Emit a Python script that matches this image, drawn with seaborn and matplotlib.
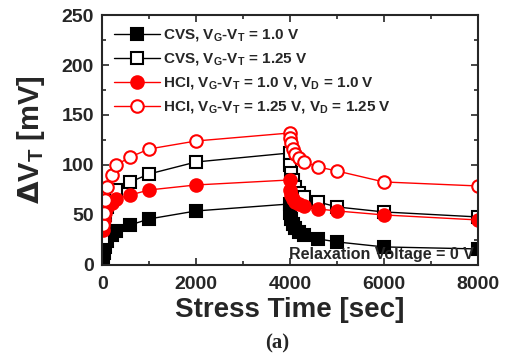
import pandas as pd
import matplotlib
matplotlib.use("Agg")
import matplotlib.pyplot as plt
from matplotlib.ticker import MultipleLocator
import seaborn as sns

sns.set_style("ticks")
plt.rcParams["font.family"] = ["Liberation Sans", "DejaVu Sans"]
plt.rcParams["font.weight"] = "bold"
plt.rcParams["mathtext.default"] = "bf"

# stress (0-4000 s) then relaxation (4000-8000 s)
time = [10, 30, 60, 100, 200, 300, 600, 1000, 2000, 4000,
        4010, 4030, 4060, 4100, 4200, 4300, 4600, 5000, 6000, 8000]
cvs_10 = [8, 12, 18, 24, 30, 34, 40, 46, 54, 61,
          52, 46, 41, 37, 33, 30, 26, 23, 18, 16]
cvs_125 = [27, 40, 50, 58, 66, 75, 83, 91, 103, 112,
           100, 92, 85, 78, 72, 68, 63, 58, 53, 48]
hci_10 = [35, 45, 52, 58, 62, 66, 70, 75, 80, 85,
          75, 70, 66, 63, 61, 59, 56, 54, 50, 45]
hci_125 = [40, 52, 65, 78, 90, 100, 108, 116, 124, 132,
           127, 122, 116, 111, 107, 103, 98, 94, 83, 79]

labels = [r"CVS, V$_\mathregular{G}$-V$_\mathregular{T}$ = 1.0 V",
          r"CVS, V$_\mathregular{G}$-V$_\mathregular{T}$ = 1.25 V",
          r"HCI, V$_\mathregular{G}$-V$_\mathregular{T}$ = 1.0 V, V$_\mathregular{D}$ = 1.0 V",
          r"HCI, V$_\mathregular{G}$-V$_\mathregular{T}$ = 1.25 V, V$_\mathregular{D}$ = 1.25 V"]

series = [
    (cvs_10, "black", "s", "black"),
    (cvs_125, "black", "s", "white"),
    (hci_10, "red", "o", "red"),
    (hci_125, "red", "o", "white"),
]

fig = plt.figure(figsize=(5.16, 3.58), dpi=100)
ax = fig.add_axes([0.198, 0.26, 0.728, 0.698])

for (vals, col, mk, face), lab in zip(series, labels):
    df = pd.DataFrame({"t": time, "dvt": vals})
    sns.lineplot(data=df, x="t", y="dvt", sort=False, estimator=None, ax=ax,
                 color=col, marker=mk, markersize=9, markerfacecolor=face,
                 markeredgecolor=col, markeredgewidth=1.5, linewidth=1.0,
                 label=lab)

ax.set_xlim(0, 8000)
ax.set_ylim(0, 250)
ax.xaxis.set_major_locator(MultipleLocator(2000))
ax.xaxis.set_minor_locator(MultipleLocator(1000))
ax.yaxis.set_major_locator(MultipleLocator(50))
ax.yaxis.set_minor_locator(MultipleLocator(25))
ax.tick_params(which="both", direction="in", top=True, right=True, width=1.2)
ax.tick_params(which="major", length=5, labelsize=14)
ax.tick_params(axis="y", which="major", pad=6)
ax.tick_params(axis="x", which="major", pad=8)
ax.tick_params(which="minor", length=3)
for lb in ax.get_xticklabels() + ax.get_yticklabels():
    lb.set_fontweight("bold")
for s in ax.spines.values():
    s.set_linewidth(1.5)

ax.set_xlabel("Stress Time [sec]", fontsize=20, fontweight="bold", labelpad=3)
ax.set_ylabel(r"$\Delta$V$_\mathregular{T}$ [mV]", fontsize=21, fontweight="bold", labelpad=10)

ax.text(0.99, 0.012, "Relaxation Voltage = 0 V", transform=ax.transAxes,
        ha="right", va="bottom", fontsize=11.5, fontweight="bold")

leg = ax.legend(loc="upper left", frameon=False, handlelength=3.0,
                handletextpad=0.2, labelspacing=0.5, borderaxespad=0.3,
                borderpad=0.5, prop={"weight": "bold", "size": 11})

fig.text(0.537, 0.012, "(a)", ha="center", va="bottom", fontsize=15,
         fontweight="bold", family="Liberation Serif")

fig.savefig("out.png", dpi=100)
